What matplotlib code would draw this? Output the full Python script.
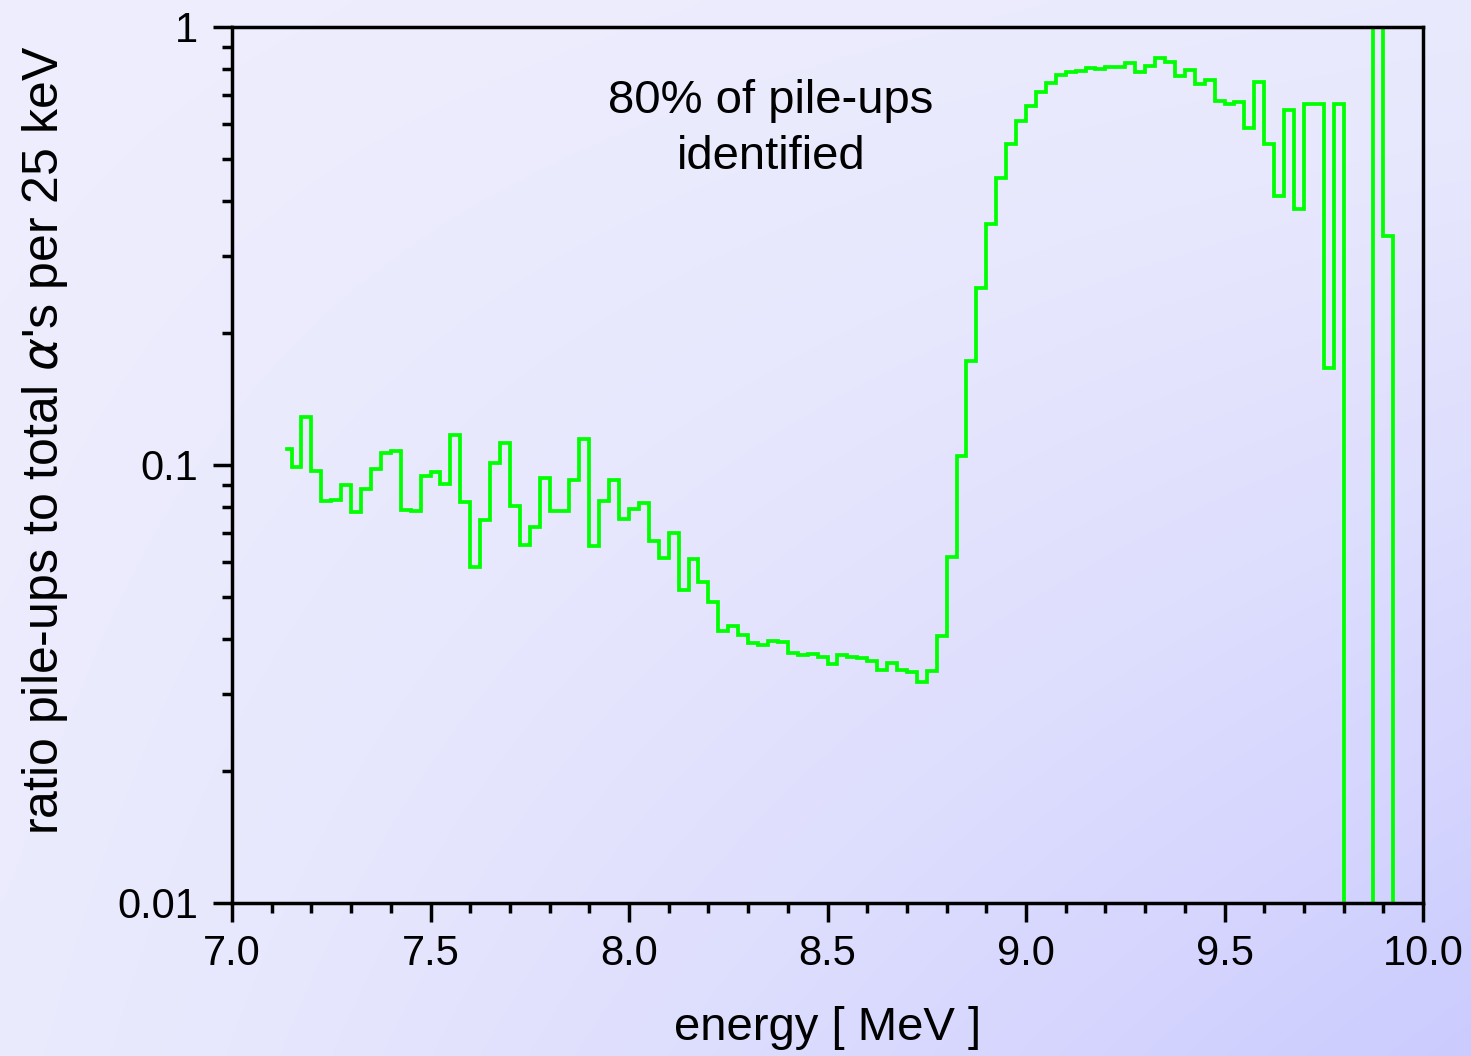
import numpy as np
import matplotlib
matplotlib.use("Agg")
import matplotlib.pyplot as plt
from matplotlib.ticker import FixedLocator, FixedFormatter, LogLocator, NullFormatter, MultipleLocator

plt.rcParams['font.family'] = ['Liberation Sans', 'DejaVu Sans']

# Histogram: 25 keV bins, first bin centre 7.1375 MeV
bin_first_centre = 7.1375
bin_width = 0.025
ratio = [
    0.1089, 0.0988, 0.1286, 0.0968, 0.0827, 0.0834, 0.0901, 0.0780, 0.0882, 0.0977,
    0.1064, 0.1079, 0.0791, 0.0787, 0.0946, 0.0966, 0.0906, 0.1168, 0.0822, 0.0584,
    0.0747, 0.1010, 0.1122, 0.0808, 0.0655, 0.0721, 0.0935, 0.0784, 0.0787, 0.0926,
    0.1144, 0.0652, 0.0829, 0.0925, 0.0751, 0.0794, 0.0819, 0.0672, 0.0612, 0.0700,
    0.0519, 0.0610, 0.0542, 0.0486, 0.0418, 0.0430, 0.0409, 0.0392, 0.0388, 0.0396,
    0.0394, 0.0373, 0.0368, 0.0370, 0.0365, 0.0351, 0.0368, 0.0364, 0.0362, 0.0357,
    0.0340, 0.0354, 0.0340, 0.0337, 0.0320, 0.0339, 0.0407, 0.0615, 0.1046, 0.1724,
    0.2541, 0.3551, 0.4510, 0.5402, 0.6097, 0.6608, 0.7112, 0.7459, 0.7757, 0.7892,
    0.7934, 0.8049, 0.8006, 0.8090, 0.8116, 0.8262, 0.7879, 0.8157, 0.8480, 0.8318,
    0.7739, 0.7974, 0.7397, 0.7564, 0.6785, 0.6668, 0.6749, 0.5866, 0.7498, 0.5393,
    0.4115, 0.6459, 0.3851, 0.6668, 0.6668, 0.1665, 0.6668, 0.0, 0.0, 0.0,
    1.0, 0.3328, 0.0,
]
energy = bin_first_centre + bin_width * np.arange(len(ratio))

x_major = [7.0, 7.5, 8.0, 8.5, 9.0, 9.5, 10.0]
x_major_labels = ["7.0", "7.5", "8.0", "8.5", "9.0", "9.5", "10.0"]
y_major = [0.01, 0.1, 1]
y_major_labels = ["0.01", "0.1", "1"]

W, H, DPI = 1471, 1056, 100
fig = plt.figure(figsize=(W / DPI, H / DPI), dpi=DPI)

# background gradient over whole figure
c0 = np.array([238, 238, 253]) / 255.0
c1 = np.array([203, 203, 255]) / 255.0
nx, ny = 300, 220
xf = np.linspace(0, 1, nx)[None, :]
yf = np.linspace(0, 1, ny)[:, None]
t = 0.12 * xf + 0.10 * yf + 0.78 * (xf * yf) ** 1.2
t = np.clip(t, 0, 1)
img = c0[None, None, :] * (1 - t[..., None]) + c1[None, None, :] * t[..., None]
bg = fig.add_axes([0, 0, 1, 1], zorder=-10)
bg.imshow(img, aspect='auto', extent=[0, 1, 0, 1], origin='upper', interpolation='bilinear')
bg.set_axis_off()

left, right = 232 / W, 1423 / W
top, bottom = 1 - 27 / H, 1 - 903 / H
ax = fig.add_axes([left, bottom, right - left, top - bottom])
ax.patch.set_alpha(0)

ax.step(energy, ratio, where='mid', color='#00ff00', lw=2.7, solid_joinstyle='miter', clip_on=True)

ax.set_yscale('log', nonpositive='clip')
ax.set_xlim(7.0, 10.0)
ax.set_ylim(0.01, 1.0)

ax.xaxis.set_major_locator(FixedLocator(x_major))
ax.xaxis.set_major_formatter(FixedFormatter(x_major_labels))
ax.xaxis.set_minor_locator(MultipleLocator(0.1))
ax.yaxis.set_major_locator(FixedLocator(y_major))
ax.yaxis.set_major_formatter(FixedFormatter(y_major_labels))
ax.yaxis.set_minor_locator(LogLocator(base=10, subs=np.arange(2, 10)))
ax.yaxis.set_minor_formatter(NullFormatter())

for s in ax.spines.values():
    s.set_linewidth(2.5)
    s.set_color('black')

ax.tick_params(which='major', direction='out', length=13.5, width=2.5, labelsize=30, color='black')
ax.tick_params(which='minor', direction='out', length=7, width=2.5, color='black')
ax.tick_params(axis='y', which='major', pad=11)
ax.tick_params(axis='x', which='major', pad=9)
ax.tick_params(top=False, right=False, which='both')

ax.set_xlabel("energy [ MeV ]", fontsize=34, va='center')
ax.xaxis.set_label_coords(0.5, (903 - 1028) / 876)
ax.set_ylabel(r"ratio pile-ups to total $\alpha$'s per 25 keV", fontsize=36, va='center')
ax.yaxis.set_label_coords((45 - 232) / 1191, (903 - 440) / 876)

ax.text(8.358, 0.585, "80% of pile-ups\nidentified", ha='center', va='center', fontsize=34,
        linespacing=1.38)

fig.savefig("out.png", dpi=DPI)
